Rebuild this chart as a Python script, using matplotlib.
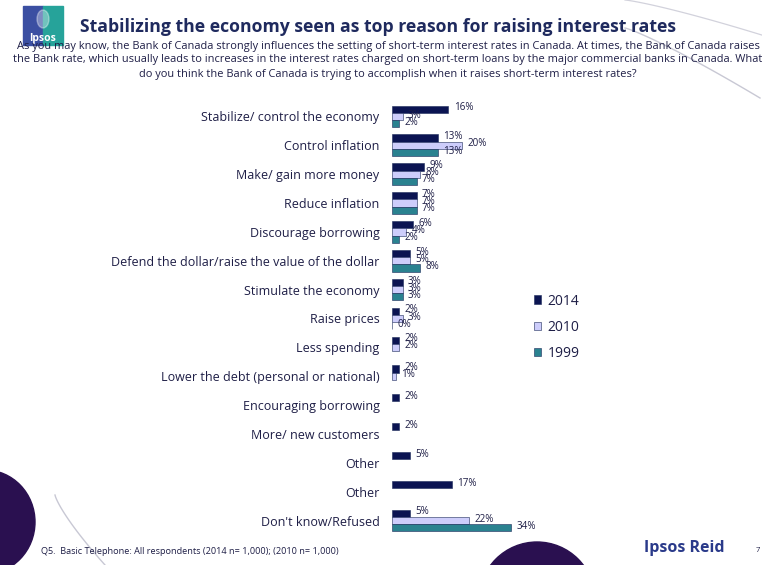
import numpy as np
import matplotlib
matplotlib.use("Agg")
import matplotlib.pyplot as plt
from matplotlib.patches import Rectangle, Circle, Ellipse

# ---- data -------------------------------------------------------------
categories = [
    "Stabilize/ control the economy",
    "Control inflation",
    "Make/ gain more money",
    "Reduce inflation",
    "Discourage borrowing",
    "Defend the dollar/raise the value of the dollar",
    "Stimulate the economy",
    "Raise prices",
    "Less spending",
    "Lower the debt (personal or national)",
    "Encouraging borrowing",
    "More/ new customers",
    "Other",
    "Other",
    "Don't know/Refused",
]
years = ["2014", "2010", "1999"]
v2014 = [16, 13, 9, 7, 6, 5, 3, 2, 2, 2, 2, 2, 5, 17, 5]
v2010 = [3, 20, 8, 7, 4, 5, 3, 3, 2, 1, None, None, None, None, 22]
v1999 = [2, 13, 7, 7, 2, 8, 3, 0, None, None, None, None, None, None, 34]

colors = ["#0b1452", "#cdcdfb", "#2a8290"]
edge = "#1c2a5a"
text_col = "#1e1e46"
navy = "#1f2a5e"

W, H = 762, 565
fig = plt.figure(figsize=(W / 100, H / 100), dpi=100)
fig.patch.set_facecolor("white")


def fx(px):
    return px / W


def fy(py):
    return 1 - py / H


# ---- background decoration -------------------------------------------
deco = fig.add_axes([0, 0, 1, 1], zorder=0)
deco.set_xlim(0, W)
deco.set_ylim(H, 0)
deco.axis("off")
t = np.linspace(0, 1, 100)
deco.plot(625 + 140 * t, 0 + 36 * t ** 1.2, color="#d2d2dc", lw=0.9)
deco.plot(625 + 135 * t, 28 + 70 * t ** 1.15, color="#c8c8d4", lw=1.0)
deco.plot(55 + 50 * t, 495 + 70 * t ** 0.8, color="#c8c8d4", lw=1.0)
deco.add_patch(Ellipse((-15, 522), 100, 104, color="#2a1050"))
deco.add_patch(Circle((537, 600), 58, color="#2a1050"))

# Ipsos logo
deco.add_patch(Rectangle((23, 6), 20, 39, color="#3b4fa2"))
deco.add_patch(Rectangle((43, 6), 20, 39, color="#26a39a"))
deco.add_patch(Ellipse((43, 19), 12, 18, color="white", alpha=0.35))
deco.text(43, 38, "Ipsos", color="white", fontsize=7.5, fontweight="bold",
          ha="center", va="center", family="Open Sans")

# ---- title block -----------------------------------------------------
fig.text(fx(80), fy(27), "Stabilizing the economy seen as top reason for raising interest rates",
         fontsize=12.7, fontweight="bold", color=navy, va="center", ha="left",
         family="Open Sans")
sub = [
    "As you may know, the Bank of Canada strongly influences the setting of short-term interest rates in Canada. At times, the Bank of Canada raises",
    "the Bank rate, which usually leads to increases in the interest rates charged on short-term loans by the major commercial banks in Canada. What",
    "do you think the Bank of Canada is trying to accomplish when it raises short-term interest rates?",
]
for i, line in enumerate(sub):
    fig.text(fx(388), fy(46 + 14 * i), line, fontsize=7.9, color=text_col,
             ha="center", va="center", family="Open Sans")

# ---- bars ------------------------------------------------------------
ax = fig.add_axes([fx(392), fy(535), 350 / W, 433 / H], zorder=2)
ax.patch.set_alpha(0)
n = len(categories)
y = np.arange(n)
bh = 0.25
series = [v2014, v2010, v1999]
offsets = [-bh, 0, bh]
for vals, col, off, yr in zip(series, colors, offsets, years):
    for i, v in enumerate(vals):
        if v is None:
            continue
        ax.barh(y[i] + off, v, height=bh, color=col, edgecolor=edge,
                linewidth=0.4, label=yr if i == 0 else None)
        ax.annotate(f"{v}%", (v, y[i] + off), xytext=(4, 1),
                    textcoords="offset points", fontsize=7.1, color=text_col,
                    va="center", ha="left", family="Open Sans")

ax.set_xlim(0, 100)
ax.set_ylim(n - 0.5, -0.5)
ax.set_yticks(y)
ax.set_yticklabels(categories, fontsize=9.0, color=text_col, family="Open Sans")
ax.tick_params(axis="y", length=0, pad=9)
ax.set_xticks([])
for s in ax.spines.values():
    s.set_visible(False)

leg = ax.legend(loc="upper left", bbox_to_anchor=(fx(521), fy(281)),
                bbox_transform=fig.transFigure, frameon=False,
                handlelength=0.55, handleheight=0.55, handletextpad=0.45,
                labelspacing=0.8, prop={"family": "Open Sans", "size": 10})
for txt in leg.get_texts():
    txt.set_color(text_col)

# ---- footer ----------------------------------------------------------
fig.text(fx(41), fy(551), "Q5.  Basic Telephone: All respondents (2014 n= 1,000); (2010 n= 1,000)",
         fontsize=6.6, color=text_col, va="center", ha="left", family="Open Sans")
fig.text(fx(644), fy(548), "Ipsos Reid", fontsize=11.5, fontweight="bold",
         color="#2a3a8a", va="center", ha="left", family="Open Sans")
fig.text(fx(756), fy(551), "7", fontsize=5.5, color=text_col, va="center",
         ha="left", family="Open Sans")

fig.savefig("out.png", dpi=100)
